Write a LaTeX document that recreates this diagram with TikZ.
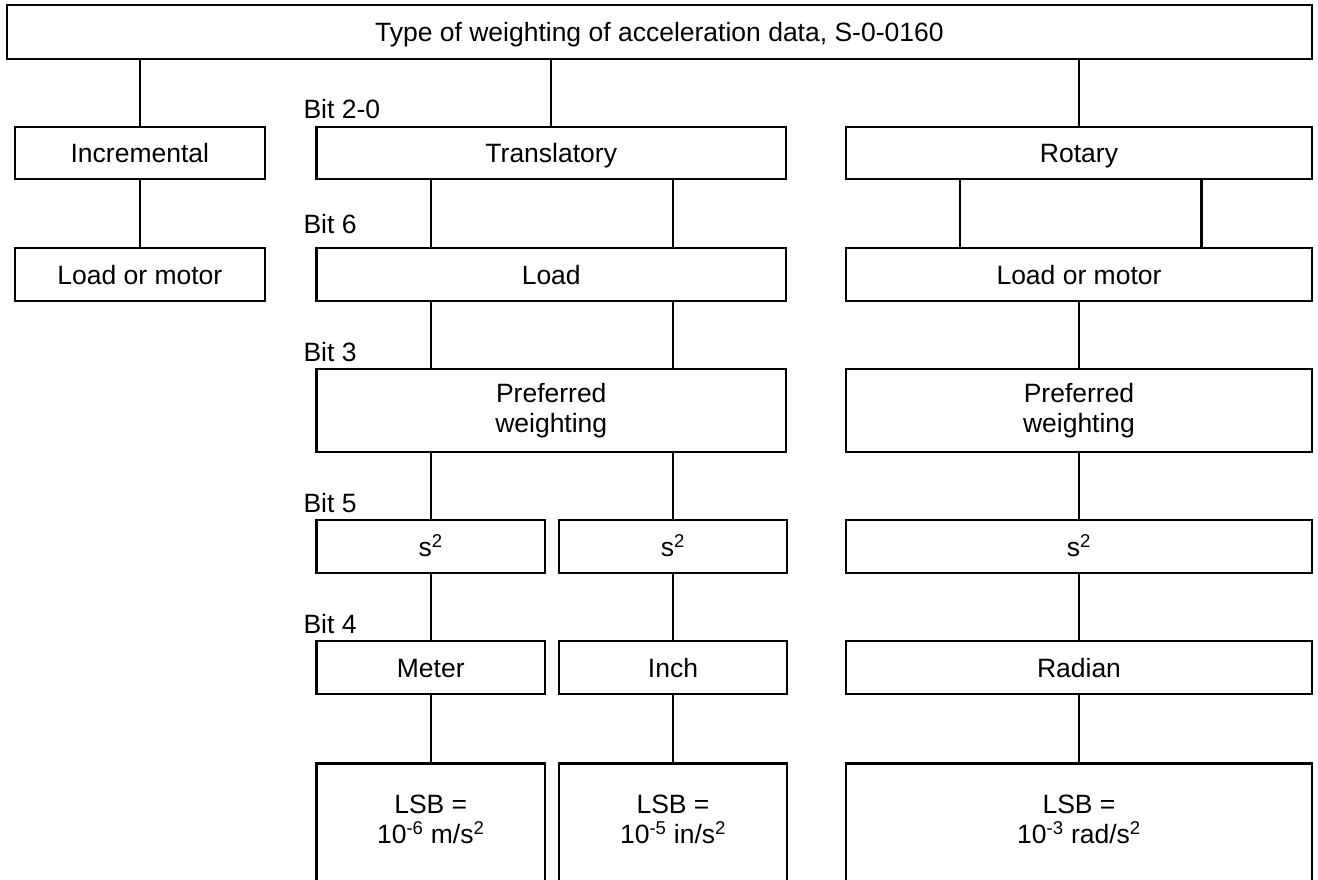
\documentclass[tikz,border=0pt]{standalone}
\usepackage{fontspec}
\setmainfont{Liberation Sans}
\usetikzlibrary{calc}
\newcommand{\boxfont}{\fontsize{26.5}{30}\selectfont}
\tikzset{
  framed/.style={draw, line width=2.2pt, rectangle, inner sep=0pt, font=\boxfont},
  box/.style={framed, text height=19pt, text depth=0pt},
  tallbox/.style={framed, align=center},
  bitlabel/.style={anchor=base west, inner sep=0pt, font=\boxfont},
  link/.style={line width=2.2pt},
  note/.style={inner sep=0pt, align=center, font=\boxfont}
}
\begin{document}
\begin{tikzpicture}[x=1pt, y=-1pt]
  \useasboundingbox (0,0) rectangle (1318,879);
  \fill[white] (0,0) rectangle (1318,879);
  \clip (0,0) rectangle (1318,879);

  % header
  \node[box, minimum width=1305.3pt, minimum height=53.4pt] (top) at (659.35,32)
    {Type of weighting of acceleration data, S-0-0160};

  % row 1: type
  \node[box, minimum width=250.3pt, minimum height=52.6pt] (inc) at (139.85,153) {Incremental};
  \node[box, minimum width=469.5pt, minimum height=52.6pt] (tra) at (551.25,153) {Translatory};
  \node[box, minimum width=466pt,   minimum height=52.6pt] (rot) at (1079,153) {Rotary};

  % row 2: load / motor
  \node[box, minimum width=250.3pt, minimum height=52.4pt] (incl) at (139.85,274.5) {Load or motor};
  \node[box, minimum width=469.5pt, minimum height=52.4pt] (tral) at (551.25,274.5) {Load};
  \node[box, minimum width=466pt,   minimum height=52.4pt] (rotl) at (1079,274.5) {Load or motor};

  % row 3: preferred weighting
  \node[tallbox, minimum width=469.5pt, minimum height=82.7pt] (trap) at (551.25,410.35) {Preferred\\weighting};
  \node[tallbox, minimum width=466pt,   minimum height=82.7pt] (rotp) at (1079,410.35) {Preferred\\weighting};

  % row 4: time unit
  \node[box, minimum width=228.5pt, minimum height=53pt] (ms) at (430.75,546.8) {s\textsuperscript{2}};
  \node[box, minimum width=228pt,   minimum height=53pt] (is) at (673,546.8) {s\textsuperscript{2}};
  \node[box, minimum width=466pt,   minimum height=53pt] (rs) at (1079,546.8) {s\textsuperscript{2}};

  % row 5: length unit
  \node[box, minimum width=228.5pt, minimum height=53pt] (mu) at (430.75,667.5) {Meter};
  \node[box, minimum width=228pt,   minimum height=53pt] (iu) at (673,667.5) {Inch};
  \node[box, minimum width=466pt,   minimum height=53pt] (ru) at (1079,667.5) {Radian};

  % row 6: resolution (boxes run past the lower edge)
  \node[framed, anchor=north, minimum width=228.5pt, minimum height=140pt] (mb) at (430.75,762.3) {};
  \node[framed, anchor=north, minimum width=228pt,   minimum height=140pt] (ib) at (673,762.3) {};
  \node[framed, anchor=north, minimum width=466pt,   minimum height=140pt] (rb) at (1079,762.3) {};
  \node[note] (mt) at ($(mb.north)+(0,57)$) {LSB =\\ 10\textsuperscript{-6} m/s\textsuperscript{2}};
  \node[note] (it) at ($(ib.north)+(0,57)$) {LSB =\\ 10\textsuperscript{-5} in/s\textsuperscript{2}};
  \node[note] (rt) at ($(rb.north)+(0,57)$) {LSB =\\ 10\textsuperscript{-3} rad/s\textsuperscript{2}};

  % bit labels
  \node[bitlabel] (b20) at (303.3,118.5) {Bit 2-0};
  \node[bitlabel] (b6)  at (303.3,233)   {Bit 6};
  \node[bitlabel] (b3)  at (303.3,361.5) {Bit 3};
  \node[bitlabel] (b5)  at (303.3,512.5) {Bit 5};
  \node[bitlabel] (b4)  at (303.3,633.5) {Bit 4};

  % connectors
  \draw[link] (top.south -| inc) -- (inc.north);
  \draw[link] (top.south -| tra) -- (tra.north);
  \draw[link] (top.south -| rot) -- (rot.north);
  \draw[link] (inc.south) -- (incl.north);

  \draw[link] (tra.south -| mu) -- (tral.north -| mu);
  \draw[link] (tra.south -| iu) -- (tral.north -| iu);
  \draw[link] ($(rot.south)+(-119,0)$) -- ($(rotl.north)+(-119,0)$);
  \draw[link] ($(rot.south)+(122.5,0)$) -- ($(rotl.north)+(122.5,0)$);

  \draw[link] (tral.south -| mu) -- (trap.north -| mu);
  \draw[link] (tral.south -| iu) -- (trap.north -| iu);
  \draw[link] (rotl.south) -- (rotp.north);

  \draw[link] (trap.south -| ms) -- (ms.north);
  \draw[link] (trap.south -| is) -- (is.north);
  \draw[link] (rotp.south) -- (rs.north);

  \draw[link] (ms.south) -- (mu.north);
  \draw[link] (is.south) -- (iu.north);
  \draw[link] (rs.south) -- (ru.north);

  \draw[link] (mu.south) -- (mb.north);
  \draw[link] (iu.south) -- (ib.north);
  \draw[link] (ru.south) -- (rb.north);
\end{tikzpicture}
\end{document}
